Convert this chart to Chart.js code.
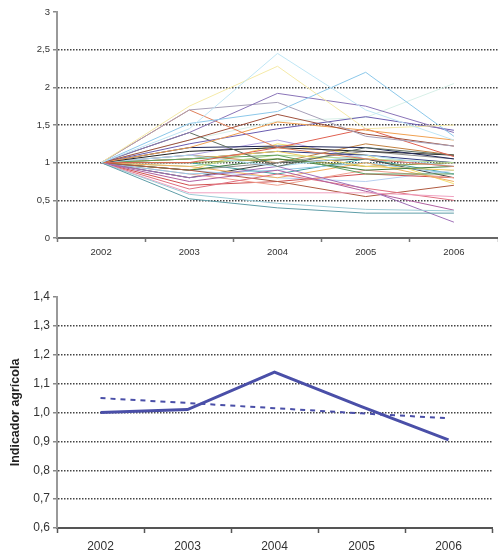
<!DOCTYPE html>
<html>
<head>
<meta charset="utf-8">
<script src="https://cdn.jsdelivr.net/npm/chart.js@4/dist/chart.umd.min.js"></script>
<style>
  body { margin: 0; background: #fff; }
  #top { position: absolute; left: 0; top: 0; }
  #bottom { position: absolute; left: 0; top: 280px; }
</style>
</head>
<body>
<canvas id="top" width="498" height="265"></canvas>
<canvas id="bottom" width="498" height="275"></canvas>
<script>
const years = ["2002", "2003", "2004", "2005", "2006"];

// one row per indicator, base 2002 = 1
const indexLines = [
  [1, 1.45, 2.45, 1.70, 1.30],
  [1, 1.75, 2.28, 1.45, 1.50],
  [1, 1.52, 1.68, 2.20, 1.35],
  [1, 1.40, 1.92, 1.75, 1.40],
  [1, 1.70, 1.80, 1.35, 1.22],
  [1, 1.70, 1.20, 1.05, 0.95],
  [1, 1.30, 1.64, 1.38, 1.22],
  [1, 1.20, 1.54, 1.43, 1.30],
  [1, 1.00, 1.20, 1.45, 1.08],
  [1, 1.25, 1.45, 1.61, 1.43],
  [1, 1.40, 0.95, 1.20, 1.10],
  [1, 1.20, 1.22, 1.20, 1.05],
  [1, 1.15, 1.20, 1.15, 1.10],
  [1, 1.10, 0.95, 1.10, 0.95],
  [1, 0.52, 0.40, 0.33, 0.33],
  [1, 0.58, 0.46, 0.38, 0.36],
  [1, 0.60, 0.60, 0.60, 0.55],
  [1, 0.80, 0.95, 0.65, 0.21],
  [1, 0.75, 0.90, 0.62, 0.37],
  [1, 0.65, 0.85, 0.66, 0.50],
  [1, 0.90, 0.75, 0.55, 0.70],
  [1, 1.05, 1.10, 0.85, 0.85],
  [1, 0.90, 1.05, 0.90, 0.95],
  [1, 1.05, 1.15, 0.95, 0.90],
  [1, 0.95, 0.80, 1.00, 0.75],
  [1, 0.95, 1.10, 1.05, 1.00],
  [1, 0.85, 0.90, 1.00, 0.85],
  [1, 0.85, 0.70, 0.90, 0.80],
  [1, 1.05, 1.15, 1.10, 1.00],
  [1, 0.90, 1.00, 1.15, 1.05],
  [1, 1.00, 1.05, 0.95, 1.00],
  [1, 1.10, 1.30, 1.05, 0.95],
  [1, 0.70, 0.75, 0.85, 0.80],
  [1, 0.90, 0.80, 0.75, 0.90],
  [1, 1.10, 1.00, 1.25, 1.10],
  [1, 0.80, 1.00, 1.05, 0.80],
  [1, 1.00, 0.85, 1.05, 0.85],
  [1, 0.90, 1.25, 1.10, 0.72],
  [1, 1.30, 1.55, 1.60, 2.05]
];

const lineColors = [
  "#bfe6f5", "#f5eaa8", "#8cc8ea", "#8a74b8", "#a7a0b8",
  "#e0805a", "#a0503c", "#f0a050", "#e06050", "#6a5cb0",
  "#607060", "#20285a", "#202020", "#a8d8ec", "#5f9ea8",
  "#9ccbd6", "#f0a0c0", "#a070b8", "#b060a0", "#e07080",
  "#b05a40", "#60a060", "#407a40", "#f0d060", "#f0b060",
  "#b0d890", "#90c8e8", "#f0a090", "#303a80", "#909090",
  "#909840", "#b0a0e0", "#d05050", "#b8d0f0", "#c08040",
  "#404040", "#40a0a0", "#f5e070", "#d8f0e8"
];

const agriValues = [1.00, 1.01, 1.14, 1.02, 0.905];
const agriTrend = [1.05, 1.033, 1.015, 0.997, 0.98];

const tickFont = { family: "Liberation Sans, Arial, sans-serif" };
const comma = (v, digits) => v.toFixed(digits).replace(".", ",");

// TOP CHART - ALL INDICATORS

new Chart(document.getElementById("top"), {
  type: "line",
  data: {
    labels: years,
    datasets: indexLines.map((vals, i) => ({
      data: vals,
      borderColor: lineColors[i],
      borderWidth: 1,
      pointRadius: 0,
      fill: false
    }))
  },
  options: {
    responsive: false,
    animation: false,
    layout: { padding: { top: 12, left: 0, right: 0, bottom: 0 } },
    plugins: { legend: { display: false }, tooltip: { enabled: false } },
    scales: {
      x: {
        offset: true,
        grid: { offset: true, drawOnChartArea: false, tickLength: 4, color: "#777", tickWidth: 1.5 },
        border: { color: "#666", width: 2 },
        ticks: { color: "#333", font: { ...tickFont, size: 9.5 }, padding: 5, maxRotation: 0 },
        afterFit: (s) => { s.height = 27; }
      },
      y: {
        min: 0,
        max: 3,
        grid: {
          color: (c) => (c.tick.value === 0 || c.tick.value === 3) ? "transparent" : "#444",
          lineWidth: 1.5,
          tickColor: "#888",
          tickLength: 4
        },
        border: { color: "#999", width: 2, dash: [1.5, 1.5] },
        ticks: {
          stepSize: 0.5,
          color: "#333",
          font: { ...tickFont, size: 9.5 },
          padding: 3,
          callback: (v) => Number.isInteger(v) ? String(v) : comma(v, 1)
        },
        afterFit: (s) => { s.width = 57; }
      }
    }
  }
});

// BOTTOM CHART - AGRICULTURAL INDICATOR

new Chart(document.getElementById("bottom"), {
  type: "line",
  data: {
    labels: years,
    datasets: [
      {
        label: "Indicador agrícola",
        data: agriValues,
        borderColor: "#4a4fa8",
        borderWidth: 3,
        pointRadius: 0,
        fill: false
      },
      {
        label: "Tendencia",
        data: agriTrend,
        borderColor: "#4a4fa8",
        borderWidth: 2,
        borderDash: [5, 5],
        pointRadius: 0,
        fill: false
      }
    ]
  },
  options: {
    responsive: false,
    animation: false,
    layout: { padding: { top: 17, left: 0, right: 6, bottom: 0 } },
    plugins: { legend: { display: false }, tooltip: { enabled: false } },
    scales: {
      x: {
        offset: true,
        grid: { offset: true, drawOnChartArea: false, tickLength: 5, color: "#555", tickWidth: 1.5 },
        border: { color: "#555", width: 2 },
        ticks: { color: "#333", font: { ...tickFont, size: 12 }, padding: 6, maxRotation: 0 },
        afterFit: (s) => { s.height = 27; }
      },
      y: {
        min: 0.6,
        max: 1.4,
        grid: {
          color: (c) => (Math.abs(c.tick.value - 0.6) < 1e-6 || Math.abs(c.tick.value - 1.4) < 1e-6) ? "transparent" : "#444",
          lineWidth: 1.5,
          tickColor: "#888",
          tickLength: 4
        },
        border: { color: "#999", width: 2, dash: [1.5, 1.5] },
        ticks: {
          stepSize: 0.1,
          color: "#333",
          font: { ...tickFont, size: 12 },
          padding: 3,
          callback: (v) => comma(v, 1)
        },
        title: {
          display: true,
          text: "Indicador agrícola",
          color: "#222",
          font: { ...tickFont, size: 12.5, weight: "bold" },
          padding: { top: 8, bottom: 0 }
        },
        afterFit: (s) => { s.width = 57; }
      }
    }
  }
});
</script>
</body>
</html>
